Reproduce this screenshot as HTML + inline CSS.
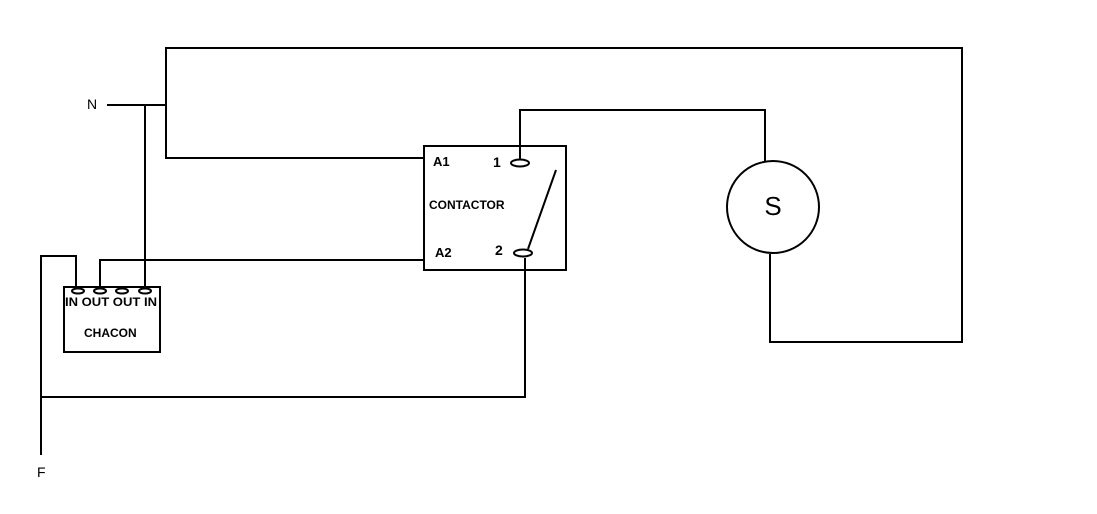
<!DOCTYPE html>
<html><head><meta charset="utf-8"><style>
html,body{margin:0;padding:0;background:#fff;}
svg{display:block;}
text{font-family:"Liberation Sans",sans-serif;fill:#000;}
</style></head><body>
<svg width="1097" height="514" viewBox="0 0 1097 514" xmlns="http://www.w3.org/2000/svg">
<g fill="none" stroke="#000" stroke-width="2">
<polyline points="107,105 166,105"/>
<polyline points="166,105 166,158 424,158"/>
<polyline points="166,105 166,48 962,48 962,342 770,342 770,254"/>
<polyline points="145,105 145,288"/>
<polyline points="41,455 41,256 76,256 76,288"/>
<polyline points="41,397 525,397 525,258"/>
<polyline points="100,288 100,260 424,260"/>
<rect x="424" y="146" width="142" height="124"/>
<polyline points="520,159 520,110 765,110 765,161"/>
<ellipse cx="520" cy="163" rx="9" ry="3.5"/>
<ellipse cx="523" cy="253" rx="9" ry="3.5"/>
<line x1="556" y1="170" x2="528" y2="249"/>
<circle cx="773" cy="207" r="46"/>
<rect x="64" y="287" width="96" height="65"/>
<ellipse cx="78" cy="291" rx="6" ry="2.5"/>
<ellipse cx="100" cy="291" rx="6" ry="2.5"/>
<ellipse cx="122" cy="291" rx="6" ry="2.5"/>
<ellipse cx="145" cy="291" rx="6" ry="2.5"/>
</g>
<text x="87" y="109" font-size="14">N</text>
<text x="37" y="477" font-size="14">F</text>
<text x="433" y="166" font-size="13" font-weight="bold">A1</text>
<text x="435" y="257" font-size="13" font-weight="bold">A2</text>
<text x="493" y="167" font-size="14" font-weight="bold">1</text>
<text x="495" y="255" font-size="14" font-weight="bold">2</text>
<text x="429" y="209" font-size="12" font-weight="bold">CONTACTOR</text>
<text x="65" y="306" font-size="11.5" font-weight="bold" textLength="92" lengthAdjust="spacingAndGlyphs">IN OUT OUT IN</text>
<text x="84" y="337" font-size="12" font-weight="bold">CHACON</text>
<text x="773" y="215" font-size="26" text-anchor="middle">S</text>
</svg>
</body></html>
